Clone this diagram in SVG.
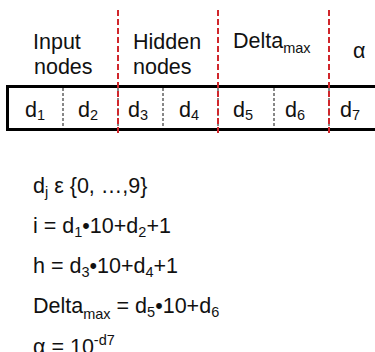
<svg xmlns="http://www.w3.org/2000/svg" width="375" height="352" viewBox="0 0 375 352">
  <style>
    text { font-family: "Liberation Sans", Arial, sans-serif; font-size: 21.5px; fill: #111; }
    .sub { font-size: 14.5px; }
    .cell-edge { stroke: #111; stroke-width: 1; stroke-dasharray: 3 2; fill: none; }
    .group-edge { stroke: #d0262b; stroke-width: 2; stroke-dasharray: 6 3; fill: none; }
    .frame { stroke: #000; stroke-width: 3; fill: none; }
  </style>

  <rect x="0" y="0" width="375" height="352" fill="#fff"/>

  <!-- group headings -->
  <g id="label-input">
    <text x="33" y="49">Input</text>
    <text x="34" y="74">nodes</text>
  </g>
  <g id="label-hidden">
    <text x="133" y="49">Hidden</text>
    <text x="133" y="74">nodes</text>
  </g>
  <g id="label-delta">
    <text x="233" y="48">Delta<tspan class="sub" dy="5">max</tspan></text>
  </g>
  <g id="label-alpha">
    <text x="353" y="58">α</text>
  </g>

  <!-- digit strip -->
  <g id="strip">
    <line class="frame" x1="7" y1="86.5" x2="375" y2="86.5"/>
    <line class="frame" x1="7" y1="129.5" x2="375" y2="129.5"/>
    <line class="frame" x1="7.5" y1="85" x2="7.5" y2="131"/>
  </g>

  <g id="dividers">
    <line class="cell-edge" x1="63" y1="88" x2="63" y2="128"/>
    <line class="cell-edge" x1="118" y1="88" x2="118" y2="128"/>
    <line class="cell-edge" x1="163" y1="88" x2="163" y2="128"/>
    <line class="cell-edge" x1="218" y1="88" x2="218" y2="128"/>
    <line class="cell-edge" x1="274" y1="88" x2="274" y2="128"/>
    <line class="cell-edge" x1="329" y1="88" x2="329" y2="128"/>
    <line class="group-edge" x1="118" y1="10" x2="118" y2="133"/>
    <line class="group-edge" x1="218" y1="10" x2="218" y2="133"/>
    <line class="group-edge" x1="329" y1="10" x2="329" y2="133"/>
  </g>

  <g id="digits">
    <text x="25" y="117">d<tspan class="sub" dy="3">1</tspan></text>
    <text x="78" y="117">d<tspan class="sub" dy="3">2</tspan></text>
    <text x="128" y="117">d<tspan class="sub" dy="3">3</tspan></text>
    <text x="179" y="117">d<tspan class="sub" dy="3">4</tspan></text>
    <text x="233" y="117">d<tspan class="sub" dy="3">5</tspan></text>
    <text x="285" y="117">d<tspan class="sub" dy="3">6</tspan></text>
    <text x="340" y="117">d<tspan class="sub" dy="3">7</tspan></text>
  </g>

  <!-- definitions -->
  <g id="formulas">
    <text x="33" y="193">d<tspan class="sub" dy="4">j</tspan><tspan dy="-4"> ε {0, …,9}</tspan></text>
    <text x="33" y="233">i = d<tspan class="sub" dy="4">1</tspan><tspan dy="-4">•10+d</tspan><tspan class="sub" dy="4">2</tspan><tspan dy="-4">+1</tspan></text>
    <text x="33" y="273">h = d<tspan class="sub" dy="4">3</tspan><tspan dy="-4">•10+d</tspan><tspan class="sub" dy="4">4</tspan><tspan dy="-4">+1</tspan></text>
    <text x="33" y="313">Delta<tspan class="sub" dy="6">max</tspan><tspan dy="-6"> = d</tspan><tspan class="sub" dy="4">5</tspan><tspan dy="-4">•10+d</tspan><tspan class="sub" dy="4">6</tspan></text>
    <text x="33" y="354">α = 10<tspan class="sub" dy="-9">-d7</tspan></text>
  </g>
</svg>
